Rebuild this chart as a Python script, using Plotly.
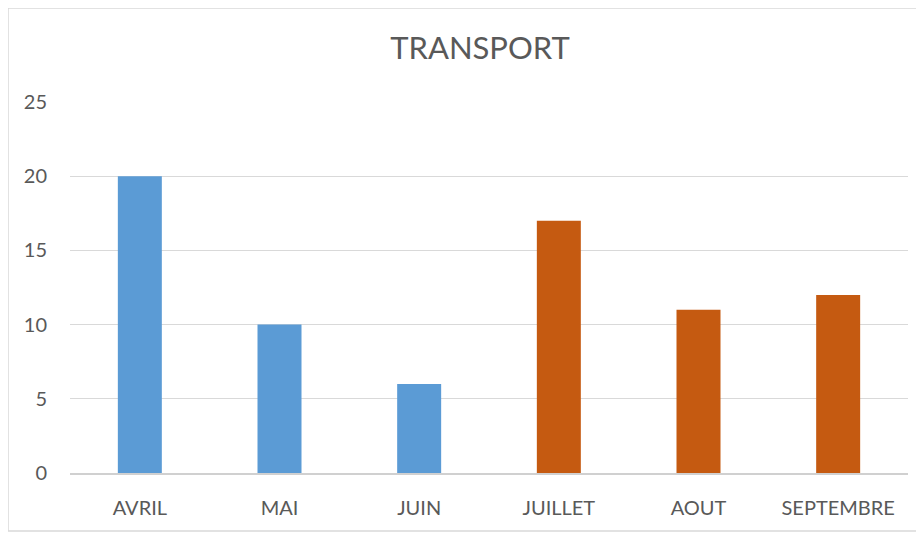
import plotly.graph_objects as go

months = ["AVRIL", "MAI", "JUIN", "JUILLET", "AOUT", "SEPTEMBRE"]
values = [20, 10, 6, 17, 11, 12]
bar_colors = ["#5B9BD5", "#5B9BD5", "#5B9BD5", "#C55A11", "#C55A11", "#C55A11"]
y_ticks = [0, 5, 10, 15, 20, 25]

fig = go.Figure(go.Bar(x=months, y=values, marker=dict(color=bar_colors, line=dict(width=0)),
                       hoverinfo="x+y"))

# page is offset by the 8px body margin
W, H = 916, 526
ml, mr, mt, mb = 62, 16, 94, 61
pw, ph = W - ml - mr, H - mt - mb

def px(x):
    return (x - ml) / pw

def py(y):
    return (H - mb - y) / ph

fig.update_layout(
    width=W, height=H,
    margin=dict(l=ml, r=mr, t=mt, b=mb),
    paper_bgcolor="white", plot_bgcolor="white",
    font=dict(family="Lato, Open Sans, sans-serif", color="#595959", size=20),
    title=dict(text="TRANSPORT", x=px(472), xanchor="center", xref="paper",
               y=1 - 40 / H, yanchor="middle",
               font=dict(size=31, color="#595959")),
    bargap=0.685,
    showlegend=False,
    xaxis=dict(showgrid=False, showline=True, linecolor="#D0D0D0", linewidth=1.5,
               ticks="", tickfont=dict(size=20, color="#595959"), ticklabelstandoff=16),
    yaxis=dict(range=[0, 25], tickvals=y_ticks, showgrid=True, gridcolor="#D9D9D9", gridwidth=1.3,
               zeroline=False, showline=False, ticks="", tickfont=dict(size=20, color="#595959"),
               ticklabelstandoff=22),
    shapes=[dict(type="rect", xref="paper", yref="paper",
                 x0=px(0), x1=px(W + 5), y0=py(H - 3), y1=py(0),
                 line=dict(color="#D9D9D9", width=1.5), fillcolor="rgba(0,0,0,0)", layer="below")],
)

fig.write_html("out.html")
